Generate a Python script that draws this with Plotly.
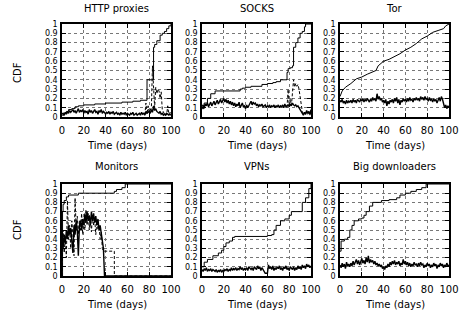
import plotly.graph_objects as go

W, H = 459, 313
FONT = "DejaVu Sans"

titles = ["HTTP proxies", "SOCKS", "Tor", "Monitors", "VPNs", "Big downloaders"]
days = list(range(0, 101))

# ---- CDF step curves (x, y) ----
http_cdf_x = [0, 2, 4, 6, 9, 12, 15, 20, 30, 40, 55, 65, 72, 78, 84, 85, 87, 90, 92, 94, 96, 98, 100]
http_cdf_y = [0.02, 0.04, 0.06, 0.08, 0.09, 0.11, 0.12, 0.13, 0.14, 0.15, 0.16, 0.17, 0.18, 0.40, 0.75, 0.78, 0.82, 0.88, 0.90, 0.92, 0.95, 0.98, 1.0]

socks_cdf_x = [0, 2, 5, 8, 12, 35, 37, 40, 45, 55, 60, 65, 68, 72, 78, 79, 81, 83, 84, 86, 88, 90, 92, 94, 95, 100]
socks_cdf_y = [0.09, 0.15, 0.20, 0.25, 0.28, 0.30, 0.31, 0.32, 0.33, 0.35, 0.36, 0.37, 0.38, 0.40, 0.48, 0.52, 0.53, 0.55, 0.75, 0.80, 0.85, 0.90, 0.92, 0.97, 1.0, 1.0]

tor_cdf_x = [0, 2, 5, 10, 15, 20, 25, 30, 33, 35, 40, 45, 50, 55, 60, 65, 70, 75, 80, 85, 90, 95, 97, 100]
tor_cdf_y = [0.22, 0.28, 0.32, 0.36, 0.41, 0.43, 0.46, 0.49, 0.50, 0.55, 0.60, 0.62, 0.65, 0.68, 0.72, 0.75, 0.79, 0.84, 0.87, 0.91, 0.93, 0.95, 0.98, 1.0]

mon_cdf_x = [0, 0.5, 1, 2, 4, 6, 15, 48, 50, 55, 58, 100]
mon_cdf_y = [0.0, 0.70, 0.78, 0.82, 0.86, 0.88, 0.90, 0.92, 0.94, 0.96, 1.0, 1.0]

vpn_cdf_x = [0, 2, 5, 10, 15, 18, 20, 22, 25, 28, 30, 60, 64, 66, 68, 72, 76, 80, 82, 90, 92, 95, 98, 100]
vpn_cdf_y = [0.10, 0.15, 0.18, 0.22, 0.25, 0.28, 0.32, 0.36, 0.38, 0.42, 0.43, 0.44, 0.45, 0.50, 0.55, 0.60, 0.62, 0.66, 0.70, 0.70, 0.80, 0.85, 0.95, 1.0]

bd_cdf_x = [0, 1, 4, 7, 9, 11, 13, 17, 20, 22, 24, 27, 30, 38, 45, 52, 55, 60, 65, 70, 75, 79, 100]
bd_cdf_y = [0.27, 0.38, 0.40, 0.42, 0.50, 0.55, 0.60, 0.62, 0.63, 0.66, 0.70, 0.76, 0.80, 0.82, 0.83, 0.85, 0.88, 0.90, 0.92, 0.94, 0.96, 1.0, 1.0]

# ---- daily fractions (noisy, one value per day 0..100) ----
http_daily = [0.03, 0.04, 0.02, 0.05, 0.03, 0.06, 0.04, 0.07, 0.05, 0.06,
              0.08, 0.05, 0.07, 0.04, 0.06, 0.09, 0.05, 0.07, 0.06, 0.08,
              0.04, 0.07, 0.05, 0.06, 0.03, 0.08, 0.05, 0.07, 0.04, 0.06,
              0.08, 0.05, 0.06, 0.03, 0.07, 0.05, 0.08, 0.04, 0.06, 0.05,
              0.03, 0.05, 0.04, 0.06, 0.03, 0.05, 0.04, 0.06, 0.03, 0.04,
              0.05, 0.03, 0.04, 0.02, 0.05, 0.03, 0.04, 0.03, 0.05, 0.02,
              0.04, 0.03, 0.02, 0.04, 0.03, 0.05, 0.02, 0.03, 0.04, 0.02,
              0.03, 0.04, 0.02, 0.05, 0.03, 0.04, 0.02, 0.06, 0.04, 0.05,
              0.06, 0.04, 0.08, 0.05, 0.12, 0.07, 0.09, 0.06, 0.05, 0.04,
              0.06, 0.03, 0.04, 0.02, 0.03, 0.02, 0.04, 0.03, 0.02, 0.03,
              0.02]
socks_daily = [0.11, 0.13, 0.10, 0.14, 0.12, 0.15, 0.11, 0.13, 0.16, 0.12,
               0.14, 0.17, 0.13, 0.16, 0.18, 0.14, 0.17, 0.19, 0.15, 0.18,
               0.20, 0.16, 0.19, 0.15, 0.18, 0.14, 0.17, 0.13, 0.16, 0.12,
               0.15, 0.11, 0.14, 0.12, 0.16, 0.10, 0.13, 0.15, 0.11, 0.12,
               0.09, 0.13, 0.10, 0.12, 0.14, 0.17, 0.13, 0.16, 0.14, 0.15,
               0.12, 0.14, 0.11, 0.13, 0.12, 0.14, 0.11, 0.12, 0.13, 0.10,
               0.12, 0.11, 0.13, 0.10, 0.12, 0.11, 0.13, 0.10, 0.12, 0.11,
               0.13, 0.10, 0.12, 0.11, 0.13, 0.10, 0.14, 0.11, 0.12, 0.13,
               0.11, 0.14, 0.12, 0.15, 0.13, 0.12, 0.13, 0.11, 0.12, 0.10,
               0.08, 0.06, 0.04, 0.02, 0.05, 0.03, 0.07, 0.04, 0.06, 0.03,
               0.08]
tor_daily = [0.18, 0.16, 0.19, 0.15, 0.17, 0.14, 0.18, 0.15, 0.17, 0.16,
             0.18, 0.15, 0.19, 0.16, 0.18, 0.15, 0.19, 0.17, 0.16, 0.19,
             0.17, 0.20, 0.16, 0.19, 0.17, 0.20, 0.18, 0.16, 0.19, 0.17,
             0.21, 0.18, 0.20, 0.17, 0.25, 0.19, 0.22, 0.18, 0.20, 0.16,
             0.18, 0.15, 0.19, 0.12, 0.17, 0.14, 0.18, 0.16, 0.19, 0.15,
             0.20, 0.17, 0.21, 0.15, 0.19, 0.13, 0.18, 0.16, 0.20, 0.17,
             0.19, 0.16, 0.20, 0.17, 0.21, 0.18, 0.19, 0.16, 0.20, 0.18,
             0.21, 0.18, 0.20, 0.17, 0.22, 0.19, 0.21, 0.18, 0.22, 0.19,
             0.20, 0.17, 0.21, 0.18, 0.19, 0.16, 0.20, 0.17, 0.19, 0.15,
             0.18, 0.21, 0.17, 0.22, 0.19, 0.15, 0.10, 0.13, 0.09, 0.12,
             0.10]
mon_daily = [0.50, 0.30, 0.45, 0.35, 0.50, 0.40, 0.55, 0.45, 0.52, 0.40,
             0.25, 0.55, 0.45, 0.60, 0.50, 0.22, 0.55, 0.60, 0.50, 0.62,
             0.55, 0.68, 0.58, 0.70, 0.60, 0.66, 0.55, 0.70, 0.60, 0.68,
             0.58, 0.65, 0.55, 0.62, 0.50, 0.55, 0.45, 0.35, 0.30, 0.00,
             0.0, 0.0, 0.0, 0.0, 0.0, 0.0, 0.0, 0.0, 0.0, 0.0,
             0.0, 0.0, 0.0, 0.0, 0.0, 0.0, 0.0, 0.0, 0.0, 0.0,
             0.0, 0.0, 0.0, 0.0, 0.0, 0.0, 0.0, 0.0, 0.0, 0.0,
             0.0, 0.0, 0.0, 0.0, 0.0, 0.0, 0.0, 0.0, 0.0, 0.0,
             0.0, 0.0, 0.0, 0.0, 0.0, 0.0, 0.0, 0.0, 0.0, 0.0,
             0.0, 0.0, 0.0, 0.0, 0.0, 0.0, 0.0, 0.0, 0.0, 0.0,
             0.0]
vpn_daily = [0.07, 0.05, 0.08, 0.06, 0.09, 0.05, 0.07, 0.06, 0.08, 0.05,
             0.07, 0.06, 0.05, 0.07, 0.04, 0.06, 0.05, 0.07, 0.04, 0.06,
             0.05, 0.07, 0.06, 0.08, 0.05, 0.07, 0.06, 0.09, 0.06, 0.08,
             0.07, 0.09, 0.06, 0.08, 0.07, 0.10, 0.07, 0.09, 0.06, 0.08,
             0.07, 0.09, 0.06, 0.10, 0.08, 0.07, 0.09, 0.06, 0.10, 0.08,
             0.07, 0.11, 0.08, 0.10, 0.06, 0.09, 0.07, 0.05, 0.03, 0.03,
             0.03, 0.12, 0.08, 0.10, 0.07, 0.11, 0.06, 0.09, 0.07, 0.10,
             0.08, 0.11, 0.07, 0.09, 0.06, 0.10, 0.08, 0.11, 0.07, 0.09,
             0.06, 0.10, 0.08, 0.07, 0.10, 0.06, 0.09, 0.07, 0.11, 0.08,
             0.10, 0.07, 0.12, 0.09, 0.11, 0.08, 0.13, 0.10, 0.12, 0.09,
             0.11]
bd_daily = [0.12, 0.09, 0.14, 0.10, 0.13, 0.08, 0.15, 0.11, 0.13, 0.10,
            0.14, 0.11, 0.16, 0.12, 0.15, 0.18, 0.13, 0.17, 0.12, 0.16,
            0.19, 0.14, 0.17, 0.13, 0.20, 0.15, 0.22, 0.14, 0.18, 0.15,
            0.17, 0.13, 0.16, 0.12, 0.14, 0.11, 0.13, 0.10, 0.12, 0.08,
            0.10, 0.07, 0.11, 0.09, 0.13, 0.10, 0.15, 0.12, 0.16, 0.13,
            0.17, 0.12, 0.15, 0.13, 0.16, 0.11, 0.14, 0.12, 0.18, 0.13,
            0.16, 0.12, 0.15, 0.11, 0.14, 0.10, 0.13, 0.11, 0.15, 0.12,
            0.13, 0.10, 0.14, 0.11, 0.15, 0.12, 0.13, 0.09, 0.12, 0.10,
            0.14, 0.11, 0.13, 0.09, 0.12, 0.10, 0.14, 0.11, 0.13, 0.08,
            0.12, 0.10, 0.14, 0.11, 0.13, 0.09, 0.12, 0.10, 0.14, 0.11,
            0.12]

# ---- dashed burst series ----
http_burst_x = [76, 77, 78, 79, 80, 81, 82, 83, 84, 85, 86, 87, 88, 89, 90, 91, 92, 93, 94, 95, 96, 97, 98, 99, 100]
http_burst_y = [0.02, 0.15, 0.03, 0.12, 0.05, 0.08, 0.10, 0.55, 0.30, 0.10, 0.32, 0.25, 0.30, 0.28, 0.20, 0.27, 0.08, 0.05, 0.03, 0.04, 0.02, 0.12, 0.03, 0.05, 0.04]
socks_burst_x = [78, 79, 80, 81, 82, 83, 84, 85, 86, 87, 88, 89, 90, 91, 92, 93, 94, 95, 96, 97, 98, 99, 100]
socks_burst_y = [0.10, 0.30, 0.12, 0.20, 0.12, 0.25, 0.40, 0.32, 0.36, 0.33, 0.35, 0.30, 0.22, 0.12, 0.06, 0.03, 0.05, 0.02, 0.06, 0.03, 0.05, 0.02, 0.06]
mon_burst_x = [0, 1, 2, 3, 4, 5, 6, 7, 8, 9, 10, 11, 12, 13, 14, 15, 16, 17, 18, 19, 20,
               21, 22, 23, 24, 25, 26, 27, 28, 29, 30, 31, 32, 33, 34, 35, 36, 37, 38, 48, 48, 100]
mon_burst_y = [0.0, 0.50, 0.25, 0.40, 0.20, 0.82, 0.40, 0.55, 0.30, 0.60, 0.45, 0.22, 0.85, 0.50, 0.65, 0.45, 0.60, 0.50, 0.68, 0.45, 0.60,
               0.50, 0.72, 0.55, 0.68, 0.50, 0.62, 0.48, 0.66, 0.55, 0.62, 0.45, 0.60, 0.50, 0.55, 0.40, 0.48, 0.30, 0.27, 0.27, 0.0, 0.0]

panels = [
    (http_cdf_x, http_cdf_y, "hv", http_daily, http_burst_x, http_burst_y),
    (socks_cdf_x, socks_cdf_y, "hv", socks_daily, socks_burst_x, socks_burst_y),
    (tor_cdf_x, tor_cdf_y, "linear", tor_daily, None, None),
    (mon_cdf_x, mon_cdf_y, "hv", mon_daily, mon_burst_x, mon_burst_y),
    (vpn_cdf_x, vpn_cdf_y, "hv", vpn_daily, None, None),
    (bd_cdf_x, bd_cdf_y, "hv", bd_daily, None, None),
]

# pixel boxes for the panels
col_px = [(62, 171), (202, 311), (340, 449)]
row_px = [(24, 117), (184, 276)]

fig = go.Figure()
layout = dict(width=W, height=H, margin=dict(l=0, r=0, t=0, b=0, autoexpand=False),
              paper_bgcolor="white", plot_bgcolor="white", showlegend=False,
              font=dict(family=FONT, size=10, color="black"))
annotations = []

for i, (cx, cy, shape, daily, bx, by) in enumerate(panels):
    r, c = divmod(i, 3)
    n = i + 1
    xa = "x" if n == 1 else f"x{n}"
    ya = "y" if n == 1 else f"y{n}"
    x0, x1 = col_px[c]
    y0, y1 = row_px[r]
    common = dict(showline=True, linecolor="black", linewidth=1.5, mirror="ticks",
                  ticks="inside", ticklen=4, tickwidth=1, tickcolor="black",
                  showgrid=True, gridcolor="#777", griddash="dot", gridwidth=1,
                  zeroline=False, automargin=False)
    layout["xaxis" if n == 1 else f"xaxis{n}"] = dict(
        domain=[x0 / W, x1 / W], range=[0, 100], tickvals=[0, 20, 40, 60, 80, 100],
        anchor=ya, ticklabelstandoff=3, tickfont=dict(family=FONT, size=10, color="black"), **common)
    layout["yaxis" if n == 1 else f"yaxis{n}"] = dict(
        domain=[(H - y1) / H, (H - y0) / H], range=[0, 1],
        tickvals=[k / 10 for k in range(11)],
        ticktext=["0"] + [f"0.{k}" for k in range(1, 10)] + ["1"],
        anchor=xa, ticklabelstandoff=1, tickfont=dict(family=FONT, size=8, color="black"), **common)

    fig.add_trace(go.Scatter(x=days, y=daily, mode="lines", xaxis=xa, yaxis=ya,
                             line=dict(color="black", width=1.4), hoverinfo="skip"))
    if bx is not None:
        fig.add_trace(go.Scatter(x=bx, y=by, mode="lines", xaxis=xa, yaxis=ya,
                                 line=dict(color="black", width=1, dash="3px,2px"), hoverinfo="skip"))
    fig.add_trace(go.Scatter(x=cx, y=cy, mode="lines", xaxis=xa, yaxis=ya,
                             line=dict(color="black", width=1, shape=shape), hoverinfo="skip"))

    xc = (x0 + x1) / 2
    title_y = 8 if r == 0 else 167
    annotations.append(dict(text=titles[i], x=xc / W, y=(H - title_y) / H, xref="paper", yref="paper",
                            showarrow=False, xanchor="center", yanchor="middle",
                            font=dict(family=FONT, size=10, color="black")))
    xt_y = 145 if r == 0 else 304
    annotations.append(dict(text="Time (days)", x=xc / W, y=(H - xt_y) / H, xref="paper", yref="paper",
                            showarrow=False, xanchor="center", yanchor="middle",
                            font=dict(family=FONT, size=10, color="black")))
    if c == 0:
        yc = 73 if r == 0 else 230
        annotations.append(dict(text="CDF", x=17 / W, y=(H - yc) / H, xref="paper", yref="paper",
                                showarrow=False, xanchor="center", yanchor="middle", textangle=-90,
                                font=dict(family=FONT, size=10, color="black")))

layout["annotations"] = annotations
fig.update_layout(**layout)
fig.write_html("out.html", config={"displayModeBar": False},
               post_script="document.body.style.margin='0';document.body.style.overflow='hidden';")
